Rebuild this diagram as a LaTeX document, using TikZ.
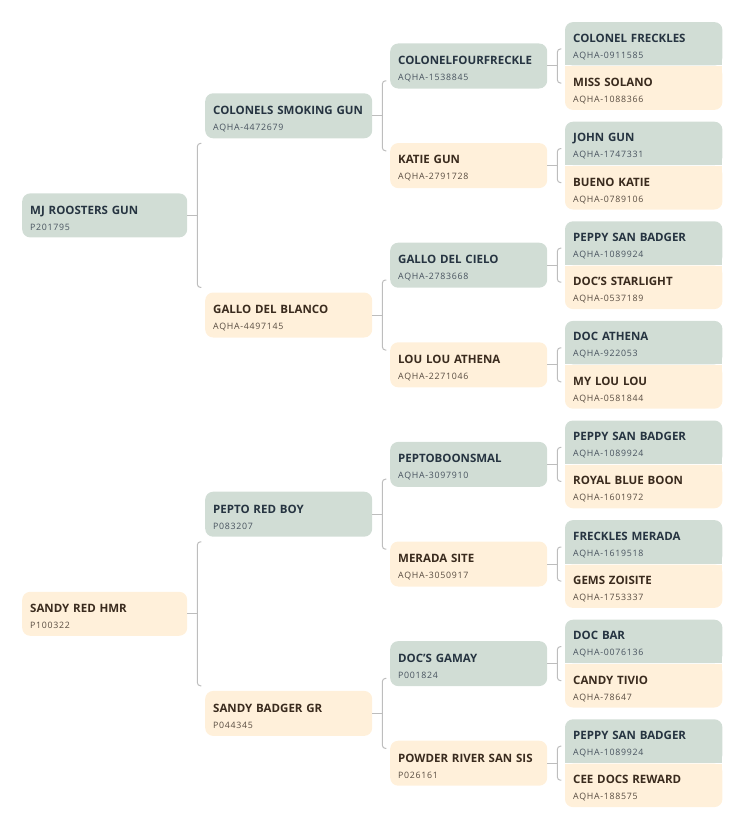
\documentclass[tikz,border=0pt]{standalone}
\usepackage{fontspec}
\setmainfont{Open Sans}
\newfontfamily\idfont{Open Sans}[LetterSpace=8]
\usetikzlibrary{calc, backgrounds}
\definecolor{sireFill}{HTML}{D1DDD5}
\definecolor{damFill}{HTML}{FFF0DA}
\definecolor{sireText}{HTML}{263441}
\definecolor{damText}{HTML}{3A2B1E}
\definecolor{lineaGris}{HTML}{BDBDBD}
\newcommand{\horse}[2]{\rule{0pt}{14pt}{\bfseries #1}\\{\idfont\fontsize{8.8}{16}\selectfont\color{.!85!white}#2}}

\begin{document}
\begin{tikzpicture}[
        x=1pt, y=-1pt,
        box/.style={inner xsep=8pt, inner ysep=0pt, align=left,
            font=\fontsize{11.5}{16}\selectfont},
        g1/.style={box, anchor=west, text width=149pt, minimum height=44pt, rounded corners=8pt},
        g2/.style={box, anchor=west, text width=151pt, minimum height=45pt, rounded corners=8pt},
        g3/.style={box, anchor=west, text width=141pt, minimum height=45pt, rounded corners=8pt},
        g4/.style={box, text width=141pt, minimum height=43pt},
        sire/.style={fill=sireFill, text=sireText},
        dam/.style={fill=damFill, text=damText},
        rama/.style={draw=lineaGris, line width=1pt}
    ]
        \useasboundingbox (0,0) rectangle (737,816);
        % first generation
        \node[g1, sire] (mj) at (22,215.4) {\horse{MJ ROOSTERS GUN}{P201795}};
        \node[g1, dam] (sandy) at (22,613.8) {\horse{SANDY RED HMR}{P100322}};
        % second generation
        \node[g2, sire] (csg) at (205,115.8) {\horse{COLONELS SMOKING GUN}{AQHA-4472679}};
        \node[g2, dam] (gdb) at (205,315.0) {\horse{GALLO DEL BLANCO}{AQHA-4497145}};
        \node[g2, sire] (prb) at (205,514.2) {\horse{PEPTO RED BOY}{P083207}};
        \node[g2, dam] (sbg) at (205,713.4) {\horse{SANDY BADGER GR}{P044345}};
        % third generation
        \node[g3, sire] (cff) at (390,66.0) {\horse{COLONELFOURFRECKLE}{AQHA-1538845}};
        \node[g3, dam] (kg) at (390,165.6) {\horse{KATIE GUN}{AQHA-2791728}};
        \node[g3, sire] (gdc) at (390,265.2) {\horse{GALLO DEL CIELO}{AQHA-2783668}};
        \node[g3, dam] (lla) at (390,364.8) {\horse{LOU LOU ATHENA}{AQHA-2271046}};
        \node[g3, sire] (pbs) at (390,464.4) {\horse{PEPTOBOONSMAL}{AQHA-3097910}};
        \node[g3, dam] (ms) at (390,564.0) {\horse{MERADA SITE}{AQHA-3050917}};
        \node[g3, sire] (dg) at (390,663.6) {\horse{DOC'S GAMAY}{P001824}};
        \node[g3, dam] (prss) at (390,763.2) {\horse{POWDER RIVER SAN SIS}{P026161}};
        % fourth generation, sire on top of dam
        \node[g4, text=sireText, anchor=south west] (cf) at (565,65.5) {\horse{COLONEL FRECKLES}{AQHA-0911585}};
        \node[g4, text=damText, anchor=north west] (msol) at (565,66.5) {\horse{MISS SOLANO}{AQHA-1088366}};
        \node[g4, text=sireText, anchor=south west] (jg) at (565,165.1) {\horse{JOHN GUN}{AQHA-1747331}};
        \node[g4, text=damText, anchor=north west] (bk) at (565,166.1) {\horse{BUENO KATIE}{AQHA-0789106}};
        \node[g4, text=sireText, anchor=south west] (psba) at (565,264.7) {\horse{PEPPY SAN BADGER}{AQHA-1089924}};
        \node[g4, text=damText, anchor=north west] (dsl) at (565,265.7) {\horse{DOC'S STARLIGHT}{AQHA-0537189}};
        \node[g4, text=sireText, anchor=south west] (dat) at (565,364.3) {\horse{DOC ATHENA}{AQHA-922053}};
        \node[g4, text=damText, anchor=north west] (mll) at (565,365.3) {\horse{MY LOU LOU}{AQHA-0581844}};
        \node[g4, text=sireText, anchor=south west] (psbb) at (565,463.9) {\horse{PEPPY SAN BADGER}{AQHA-1089924}};
        \node[g4, text=damText, anchor=north west] (rbb) at (565,464.9) {\horse{ROYAL BLUE BOON}{AQHA-1601972}};
        \node[g4, text=sireText, anchor=south west] (fm) at (565,563.5) {\horse{FRECKLES MERADA}{AQHA-1619518}};
        \node[g4, text=damText, anchor=north west] (gz) at (565,564.5) {\horse{GEMS ZOISITE}{AQHA-1753337}};
        \node[g4, text=sireText, anchor=south west] (db) at (565,663.1) {\horse{DOC BAR}{AQHA-0076136}};
        \node[g4, text=damText, anchor=north west] (ct) at (565,664.1) {\horse{CANDY TIVIO}{AQHA-78647}};
        \node[g4, text=sireText, anchor=south west] (psbc) at (565,762.7) {\horse{PEPPY SAN BADGER}{AQHA-1089924}};
        \node[g4, text=damText, anchor=north west] (cdr) at (565,763.7) {\horse{CEE DOCS REWARD}{AQHA-188575}};
        % pair backgrounds
        \begin{scope}[on background layer]
            \foreach \s/\d in {cf/msol, jg/bk, psba/dsl, dat/mll, psbb/rbb, fm/gz, db/ct, psbc/cdr} {
                \fill[sireFill, rounded corners=8pt] (\s.south west) rectangle (\s.north east);
                \fill[sireFill] (\s.west) rectangle (\s.south east);
                \fill[damFill, rounded corners=8pt] (\d.south west) rectangle (\d.north east);
                \fill[damFill] (\d.north west) rectangle (\d.east);
            }
        \end{scope}
        % brackets
        \foreach \p/\h in {mj/72, sandy/72, csg/35, gdb/35, prb/35, sbg/35,
                cff/17, kg/17, gdc/17, lla/17, pbs/17, ms/17, dg/17, prss/17} {
            \draw[rama] (\p.east) -- ++(10,0) coordinate (b);
            \draw[rama, rounded corners=3pt] ($(b)+(4,-\h)$) -- ($(b)+(0,-\h)$)
                -- ($(b)+(0,\h)$) -- ($(b)+(4,\h)$);
        }
    \end{tikzpicture}
\end{document}
